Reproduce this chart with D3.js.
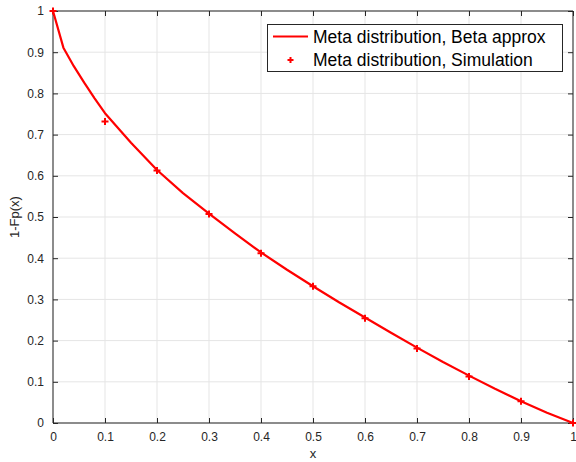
<!DOCTYPE html>
<html>
<head>
<meta charset="utf-8">
<script src="https://cdn.jsdelivr.net/npm/d3@7"></script>
<style>
  body { margin: 0; background: #fff; }
  svg { display: block; font-family: "Liberation Sans", Arial, Helvetica, sans-serif; }
</style>
</head>
<body>
<div id="chart"></div>
<script>
//data
var curveX = [0, 0.02, 0.04, 0.06, 0.08, 0.1, 0.15, 0.2, 0.25, 0.3, 0.35, 0.4, 0.45,
              0.5, 0.55, 0.6, 0.65, 0.7, 0.75, 0.8, 0.85, 0.9, 0.95, 1];
var curveY = [1, 0.911, 0.866, 0.826, 0.788, 0.752, 0.68, 0.614, 0.558, 0.508, 0.46, 0.414, 0.372,
              0.332, 0.293, 0.256, 0.219, 0.183, 0.148, 0.115, 0.083, 0.053, 0.025, 0];
var simX = [0, 0.1, 0.2, 0.3, 0.4, 0.5, 0.6, 0.7, 0.8, 0.9, 1];
var simY = [1, 0.732, 0.613, 0.507, 0.412, 0.332, 0.254, 0.181, 0.113, 0.053, 0];
var xTicks = [0, 0.1, 0.2, 0.3, 0.4, 0.5, 0.6, 0.7, 0.8, 0.9, 1];
var yTicks = [0, 0.1, 0.2, 0.3, 0.4, 0.5, 0.6, 0.7, 0.8, 0.9, 1];
var legendLabels = ['Meta distribution, Beta approx', 'Meta distribution, Simulation'];

//sizes
var outerW = 576,
    outerH = 462,
    margin = {top: 11, right: 3, bottom: 39, left: 53},
    w = outerW - margin.left - margin.right,
    h = outerH - margin.top - margin.bottom;

var axisColor = '#262626',
    gridColor = '#e5e5e5',
    red = '#ff0000';

var svg = d3.select('#chart').append('svg')
    .attr('width', outerW)
    .attr('height', outerH);

var g = svg.append('g')
    .attr('transform', 'translate(' + margin.left + ',' + margin.top + ')');

//scales
var xScale = d3.scaleLinear().domain([0, 1]).range([0, w]);
var yScale = d3.scaleLinear().domain([0, 1]).range([h, 0]);

//grid
g.append('g')
    .selectAll('line').data(xTicks).enter().append('line')
    .attr('x1', function(d) { return xScale(d); })
    .attr('x2', function(d) { return xScale(d); })
    .attr('y1', 0).attr('y2', h)
    .attr('stroke', gridColor).attr('stroke-width', 1);

g.append('g')
    .selectAll('line').data(yTicks).enter().append('line')
    .attr('y1', function(d) { return yScale(d); })
    .attr('y2', function(d) { return yScale(d); })
    .attr('x1', 0).attr('x2', w)
    .attr('stroke', gridColor).attr('stroke-width', 1);

//axes, ticks inward on all four sides
function styleAxis(sel) {
    sel.select('.domain').attr('stroke', axisColor).attr('stroke-width', 1);
    sel.selectAll('.tick line').attr('stroke', axisColor);
    sel.selectAll('.tick text').attr('fill', axisColor).style('font-size', '12px');
}

var xAxisG = g.append('g')
    .attr('transform', 'translate(0,' + h + ')')
    .call(d3.axisBottom(xScale).tickValues(xTicks).tickSize(-5).tickPadding(9)
        .tickFormat(d3.format('~g')))
    .call(styleAxis);
xAxisG.selectAll('.domain').attr('d', 'M0,0H' + w);

var yAxisG = g.append('g')
    .call(d3.axisLeft(yScale).tickValues(yTicks).tickSize(-5).tickPadding(9)
        .tickFormat(d3.format('~g')))
    .call(styleAxis);
yAxisG.selectAll('.domain').attr('d', 'M0,' + h + 'V0');

g.append('g')
    .call(d3.axisTop(xScale).tickValues(xTicks).tickSize(-5).tickFormat(''))
    .call(styleAxis)
    .select('.domain').attr('d', 'M0,0H' + w);

g.append('g')
    .attr('transform', 'translate(' + w + ',0)')
    .call(d3.axisRight(yScale).tickValues(yTicks).tickSize(-5).tickFormat(''))
    .call(styleAxis)
    .select('.domain').attr('d', 'M0,' + h + 'V0');

//axis labels
svg.append('text')
    .attr('x', margin.left + w / 2)
    .attr('y', 458)
    .attr('text-anchor', 'middle')
    .attr('fill', axisColor)
    .style('font-size', '13px')
    .text('x');

svg.append('text')
    .attr('transform', 'translate(19,' + (margin.top + h / 2) + ') rotate(-90)')
    .attr('text-anchor', 'middle')
    .attr('fill', axisColor)
    .style('font-size', '13px')
    .text('1-Fp(x)');

//curve
var curveData = curveX.map(function(x, i) { return {x: x, y: curveY[i]}; });
var line = d3.line()
    .x(function(d) { return xScale(d.x); })
    .y(function(d) { return yScale(d.y); });

g.append('path')
    .datum(curveData)
    .attr('d', line)
    .attr('fill', 'none')
    .attr('stroke', red)
    .attr('stroke-width', 2.2)
    .attr('stroke-linejoin', 'round');

//simulation markers
function drawPlus(sel, size) {
    sel.append('path')
        .attr('d', 'M' + (-size) + ',0H' + size + 'M0,' + (-size) + 'V' + size)
        .attr('stroke', red)
        .attr('stroke-width', 2)
        .attr('fill', 'none');
}

var simData = simX.map(function(x, i) { return {x: x, y: simY[i]}; });
g.append('g')
    .selectAll('g').data(simData).enter().append('g')
    .attr('transform', function(d) {
        return 'translate(' + xScale(d.x) + ',' + yScale(d.y) + ')';
    })
    .call(drawPlus, 3.5);

//legend
var legend = svg.append('g')
    .attr('transform', 'translate(267,24)');

legend.append('rect')
    .attr('x', 0.5).attr('y', 0.5)
    .attr('width', 295).attr('height', 47)
    .attr('fill', '#fff')
    .attr('stroke', axisColor)
    .attr('stroke-width', 1);

legend.append('line')
    .attr('x1', 6).attr('x2', 41)
    .attr('y1', 12.5).attr('y2', 12.5)
    .attr('stroke', red).attr('stroke-width', 2.2);

legend.append('g')
    .attr('transform', 'translate(23.5,36)')
    .call(drawPlus, 3);

legend.selectAll('text.lbl').data(legendLabels).enter().append('text')
    .attr('class', 'lbl')
    .attr('x', 46)
    .attr('y', function(d, i) { return 12.5 + i * 23.5; })
    .attr('dy', '0.35em')
    .attr('fill', '#000')
    .style('font-size', '17.5px')
    .text(function(d) { return d; });
</script>
</body>
</html>
